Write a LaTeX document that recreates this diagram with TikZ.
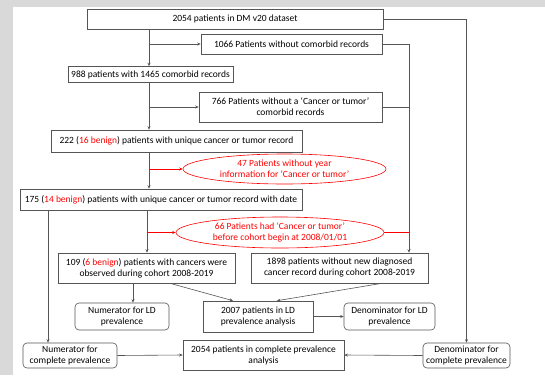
\documentclass[tikz,border=0pt]{standalone}
\usepackage{fontspec}
\setmainfont{Carlito}
\usetikzlibrary{arrows.meta,shapes.geometric}
\definecolor{bggray}{HTML}{D9D9D9}
\definecolor{linegray}{HTML}{555555}
\definecolor{flowred}{HTML}{FF0000}
\begin{document}
\begin{tikzpicture}[x=1pt, y=-1pt, >={Stealth[length=3.5pt,width=3pt]}, font=\fontsize{9.5}{11}\selectfont]
  \tikzset{box/.style={draw=linegray, line width=0.6pt, inner sep=1pt, align=center},
    rbox/.style={box, rounded corners=4pt},
    excl/.style={ellipse, draw=flowred, line width=0.6pt, text=flowred, inner sep=0pt, align=center},
    conn/.style={draw=linegray, line width=0.6pt},
    rconn/.style={draw=flowred, line width=0.6pt}}
  \useasboundingbox (0,0) rectangle (545,375);
  \fill[bggray] (0,0) rectangle (545,375);
  \fill[white] (13,7) rectangle (545,375);
  % flow boxes
  \node[box, minimum width=296pt, minimum height=20pt] (top) at (235,19) {2054 patients in DM v20 dataset};
  \node[box, minimum width=181pt, minimum height=20pt] (nocomorb) at (291.5,44) {1066 Patients without comorbid records};
  \node[box, minimum width=165pt, minimum height=16pt] (comorb) at (150.5,74.5) {988 patients with 1465 comorbid records};
  \node[box, minimum width=183pt, minimum height=30pt] (nocancer) at (290.5,107) {766 Patients without a ‘Cancer or tumor’\\comorbid records};
  \node[box, minimum width=251pt, minimum height=22pt] (unique) at (176.5,141) {222 ({\color{flowred}16 benign}) patients with unique cancer or tumor record};
  \node[excl, minimum width=203pt, minimum height=30pt] (noyear) at (284.5,169) {47 Patients without year\\information for ‘Cancer or tumor’};
  \node[box, minimum width=282pt, minimum height=21pt] (withdate) at (161,199.5) {175 ({\color{flowred}14 benign}) patients with unique cancer or tumor record with date};
  \node[excl, minimum width=208pt, minimum height=31pt] (before) at (280,232.5) {66 Patients had ‘Cancer or tumor’\\before cohort begin at 2008/01/01};
  \node[box, minimum width=177pt, minimum height=30pt] (cancers) at (146.5,268) {109 ({\color{flowred}6 benign}) patients with cancers were\\observed during cohort 2008-2019};
  \node[box, minimum width=177pt, minimum height=30pt] (nonew) at (339.5,268) {1898 patients without new diagnosed\\cancer record during cohort 2008-2019};
  \node[rbox, minimum width=94pt, minimum height=27pt] (numld) at (122,316.5) {Numerator for LD\\prevalence};
  \node[box, minimum width=110pt, minimum height=31pt] (ld) at (258,316.5) {2007 patients in LD\\prevalence analysis};
  \node[rbox, minimum width=91pt, minimum height=27pt] (denld) at (389.5,316.5) {Denominator for LD\\prevalence};
  \node[rbox, minimum width=94pt, minimum height=25pt] (numall) at (70,355.5) {Numerator for\\complete prevalence};
  \node[box, minimum width=161pt, minimum height=30pt] (all) at (263.5,355) {2054 patients in complete prevalence\\analysis};
  \node[rbox, minimum width=87pt, minimum height=25pt] (denall) at (466.5,355.5) {Denominator for\\complete prevalence};
  % spines
  \coordinate (spine) at (149,0);
  \coordinate (spineb) at (147,0);
  \coordinate (rjoin) at (409,0);
  \coordinate (lspine) at (48,0);
  % connectors
  \draw[conn, ->] (top.east) -| (denall.north);
  \draw[conn, ->] (spine |- top.south) -- (spine |- comorb.north);
  \draw[conn, ->] (spine |- nocomorb.west) -- (nocomorb.west);
  \draw[conn, ->] (nocomorb.east) -| (rjoin |- nonew.north);
  \draw[conn] (nocancer.east) -- (rjoin |- nocancer.east);
  \draw[conn, ->] (spine |- comorb.south) -- (spine |- unique.north);
  \draw[conn, ->] (spine |- nocancer.west) -- (nocancer.west);
  \draw[conn, ->] (spine |- unique.south) -- (spine |- withdate.north);
  \draw[rconn, ->] (spine |- noyear.west) -- (noyear.west);
  \draw[conn, ->] (spineb |- withdate.south) -- (spineb |- cancers.north);
  \draw[rconn, ->] (spineb |- before.west) -- (before.west);
  \draw[rconn] (before.east) -- (rjoin |- before.east);
  \draw[conn, ->] (lspine |- withdate.south) -- (lspine |- numall.north);
  \draw[conn, ->] ([xshift=11pt]numld.north |- cancers.south) -- ([xshift=11pt]numld.north);
  \draw[conn, ->] ([xshift=23.5pt]cancers.south) -- ([xshift=-25pt]ld.north);
  \draw[conn, ->] ([xshift=42.5pt]nonew.south) -- ([xshift=19pt]ld.north);
  \draw[conn, ->] (ld.east) -- (denld.west);
  \draw[conn, ->] (numall.east) -- (all.west);
  \draw[conn, ->] (denall.west) -- (all.east);
\end{tikzpicture}
\end{document}
